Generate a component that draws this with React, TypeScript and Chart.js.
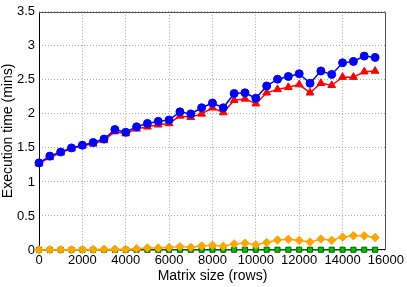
import React, { useEffect, useRef } from 'react';
import { Chart, registerables } from 'chart.js';

Chart.register(...registerables);

const sizes = [0, 500, 1000, 1500, 2000, 2500, 3000, 3500, 4000, 4500, 5000, 5500, 6000, 6500, 7000, 7500, 8000, 8500, 9000, 9500, 10000, 10500, 11000, 11500, 12000, 12500, 13000, 13500, 14000, 14500, 15000, 15500];

const blueTimes = [1.28, 1.38, 1.44, 1.5, 1.54, 1.58, 1.63, 1.77, 1.73, 1.81, 1.86, 1.89, 1.91, 2.03, 2.0, 2.09, 2.16, 2.09, 2.3, 2.31, 2.23, 2.41, 2.51, 2.55, 2.59, 2.45, 2.63, 2.58, 2.75, 2.77, 2.85, 2.83];

const redTimes = [1.27, 1.36, 1.43, 1.49, 1.53, 1.56, 1.61, 1.74, 1.71, 1.78, 1.81, 1.84, 1.86, 1.97, 1.95, 2.0, 2.09, 2.02, 2.2, 2.22, 2.15, 2.31, 2.36, 2.39, 2.43, 2.31, 2.45, 2.42, 2.54, 2.54, 2.62, 2.63];

const orangeTimes = [0.0, 0.005, 0.005, 0.005, 0.008, 0.008, 0.01, 0.01, 0.01, 0.02, 0.03, 0.03, 0.037, 0.05, 0.04, 0.06, 0.07, 0.055, 0.09, 0.1, 0.076, 0.11, 0.147, 0.157, 0.14, 0.116, 0.161, 0.142, 0.19, 0.21, 0.21, 0.183];

const greenTimes = [0.003, 0.003, 0.003, 0.003, 0.003, 0.003, 0.003, 0.003, 0.003, 0.003, 0.003, 0.003, 0.003, 0.003, 0.003, 0.003, 0.004, 0.004, 0.004, 0.004, 0.004, 0.004, 0.004, 0.004, 0.004, 0.004, 0.004, 0.004, 0.004, 0.004, 0.004, 0.004];

const xTicks = [0, 2000, 4000, 6000, 8000, 10000, 12000, 14000, 16000];
const yTicks = [0, 0.5, 1, 1.5, 2, 2.5, 3, 3.5];

const xTitle = 'Matrix size (rows)';
const yTitle = 'Execution time (mins)';

const toPoints = (ys: number[]) => sizes.map((x, i) => ({ x, y: ys[i] }));

const boxPlugin = {
  id: 'boxPlugin',
  beforeDatasetsDraw(chart: any) {
    const { ctx, chartArea } = chart;
    const l = Math.round(chartArea.left) + 0.5;
    const r = Math.round(chartArea.right) - 0.5;
    const t = Math.round(chartArea.top) + 0.5;
    const b = Math.round(chartArea.bottom) - 0.5;
    ctx.save();
    ctx.lineWidth = 1;
    ctx.strokeStyle = '#000';
    ctx.beginPath();
    ctx.moveTo(l, t);
    ctx.lineTo(l, b);
    ctx.lineTo(r, b);
    ctx.stroke();
    ctx.strokeStyle = '#555';
    ctx.beginPath();
    ctx.moveTo(l, t);
    ctx.lineTo(r, t);
    ctx.lineTo(r, b);
    ctx.stroke();
    ctx.restore();
  },
};

export default function App() {
  const ref = useRef<HTMLCanvasElement>(null);

  useEffect(() => {
    document.body.style.margin = '0';
    const canvas = ref.current;
    if (!canvas) return;
    const font = { family: '"Liberation Sans", Arial, sans-serif', size: 13 };
    const chart = new Chart(canvas, {
      type: 'line',
      data: {
        datasets: [
          {
            label: 'blue',
            data: toPoints(blueTimes),
            borderColor: '#0000ff',
            backgroundColor: '#0000ff',
            borderWidth: 1.5,
            pointStyle: 'circle',
            pointRadius: 4,
            pointBorderWidth: 1,
            clip: false,
            order: 0,
          },
          {
            label: 'red',
            data: toPoints(redTimes),
            borderColor: '#ff0000',
            backgroundColor: '#ff0000',
            borderWidth: 1.5,
            pointStyle: 'triangle',
            pointRadius: 4.5,
            pointBorderWidth: 1,
            clip: false,
            order: 1,
          },
          {
            label: 'orange',
            data: toPoints(orangeTimes),
            borderColor: '#ffa500',
            backgroundColor: '#ffa500',
            borderWidth: 1.5,
            pointStyle: 'rectRot',
            pointRadius: 4.2,
            pointBorderWidth: 1,
            clip: false,
            order: 2,
          },
          {
            label: 'green',
            data: toPoints(greenTimes),
            borderColor: '#006400',
            backgroundColor: '#00c000',
            pointBorderColor: '#006400',
            borderWidth: 1.5,
            pointStyle: 'rect',
            pointRadius: 3.6,
            pointBorderWidth: 1,
            clip: false,
            order: 3,
          },
        ],
      },
      options: {
        animation: false,
        responsive: false,
        maintainAspectRatio: false,
        layout: { padding: { top: 5, right: 19, left: 0, bottom: 0 } },
        plugins: { legend: { display: false }, tooltip: { enabled: false } },
        elements: { line: { tension: 0 } },
        scales: {
          x: {
            type: 'linear',
            min: xTicks[0],
            max: xTicks[xTicks.length - 1],
            afterBuildTicks: (scale: any) => {
              scale.ticks = xTicks.map((v) => ({ value: v }));
            },
            afterFit: (scale: any) => {
              scale.height = 37;
            },
            ticks: {
              font,
              color: '#000',
              padding: 3,
              maxRotation: 0,
              autoSkip: false,
              callback: (v: any) => String(v),
            },
            grid: { color: '#aaaaaa', lineWidth: 1, drawTicks: false },
            border: { display: false, dash: [1, 2] },
            title: {
              display: true,
              text: xTitle,
              color: '#000',
              font: { family: font.family, size: 14 },
              padding: { top: 0, bottom: 2 },
            },
          },
          y: {
            type: 'linear',
            min: yTicks[0],
            max: yTicks[yTicks.length - 1],
            afterBuildTicks: (scale: any) => {
              scale.ticks = yTicks.map((v) => ({ value: v }));
            },
            afterFit: (scale: any) => {
              scale.width = 39;
            },
            ticks: {
              font,
              color: '#000',
              padding: 4,
              autoSkip: false,
              callback: (v: any) => String(v),
            },
            grid: { color: '#aaaaaa', lineWidth: 1, drawTicks: false },
            border: { display: false, dash: [1, 2] },
            title: {
              display: true,
              text: yTitle,
              color: '#000',
              font: { family: font.family, size: 14 },
              padding: { top: 0, bottom: 0 },
            },
          },
        },
      },
      plugins: [boxPlugin],
    } as any);
    return () => chart.destroy();
  }, []);

  return (
    <div style={{ width: 407, height: 287 }}>
      <canvas ref={ref} width={407} height={287} style={{ display: 'block' }} />
    </div>
  );
}
